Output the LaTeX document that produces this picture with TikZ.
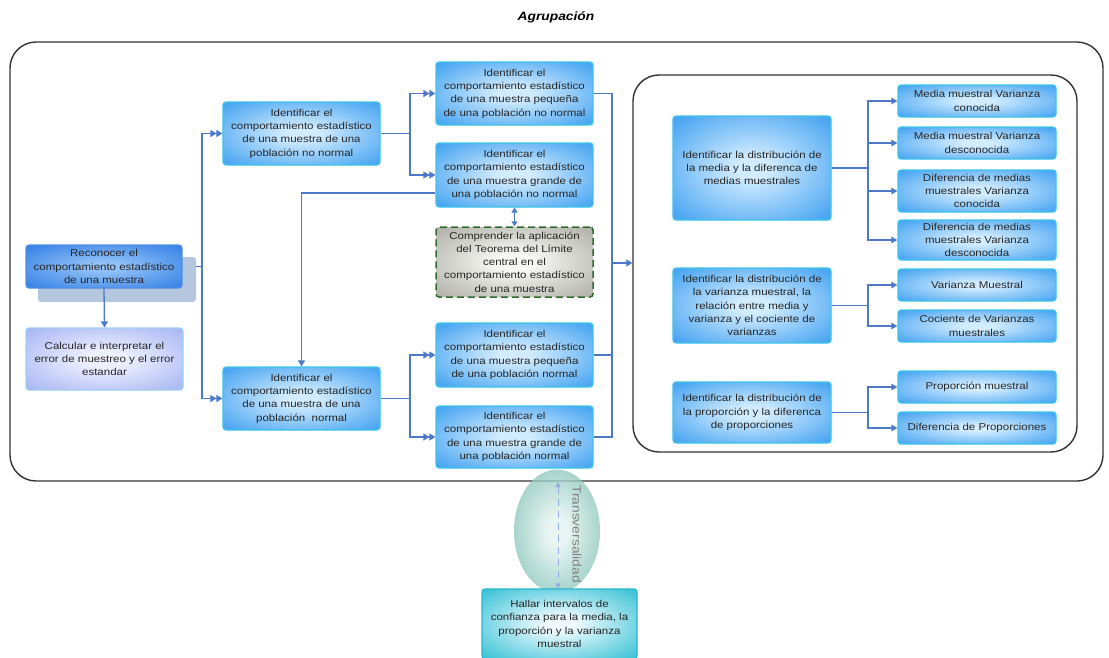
\documentclass[tikz,border=0pt]{standalone}
\usepackage{fontspec}
\setmainfont{Liberation Sans}[FakeStretch=1.15]
\usetikzlibrary{arrows.meta,shapes.geometric}
\definecolor{conn}{HTML}{4C79C9}
\definecolor{bxblue}{HTML}{4AA6F2}
\definecolor{bxlight}{HTML}{D2ECFF}
\definecolor{bxborder}{HTML}{3CC4E8}
\definecolor{abluea}{HTML}{3A84E6}
\definecolor{ablueb}{HTML}{92C2F8}
\definecolor{aborder}{HTML}{4F8FE6}
\definecolor{ashadow}{HTML}{B5C6DF}
\definecolor{lava}{HTML}{A0AEF2}
\definecolor{lavb}{HTML}{EEF1FF}
\definecolor{lavborder}{HTML}{9CCFF5}
\definecolor{tlca}{HTML}{A8A8A0}
\definecolor{tlcb}{HTML}{F7F7F4}
\definecolor{tlcborder}{HTML}{2F6B2F}
\definecolor{hcya}{HTML}{3CC3D6}
\definecolor{hcyb}{HTML}{EEFAFF}
\definecolor{hborder}{HTML}{29B5CC}
\definecolor{ella}{HTML}{5FB0A2}
\definecolor{ellb}{HTML}{E2F2EE}
\definecolor{txtgray}{HTML}{808080}
\definecolor{frame}{HTML}{333333}
\pgfdeclareradialshading{shblue}{\pgfpoint{0bp}{0bp}}{color(0bp)=(bxlight); color(5bp)=(bxlight); color(33bp)=(bxblue); color(80bp)=(bxblue)}
\pgfdeclareradialshading{sha}{\pgfpoint{0bp}{0bp}}{color(0bp)=(ablueb); color(5bp)=(ablueb); color(33bp)=(abluea); color(80bp)=(abluea)}
\pgfdeclareradialshading{shlav}{\pgfpoint{0bp}{0bp}}{color(0bp)=(lavb); color(6bp)=(lavb); color(38bp)=(lava); color(80bp)=(lava)}
\pgfdeclareradialshading{shtlc}{\pgfpoint{0bp}{0bp}}{color(0bp)=(tlcb); color(6bp)=(tlcb); color(38bp)=(tlca); color(80bp)=(tlca)}
\pgfdeclareradialshading{shh}{\pgfpoint{0bp}{0bp}}{color(0bp)=(hcyb); color(5bp)=(hcyb); color(34bp)=(hcya); color(80bp)=(hcya)}
\pgfdeclareradialshading{shell}{\pgfpoint{0bp}{0bp}}{color(0bp)=(ellb); color(6bp)=(ellb); color(36bp)=(ella); color(80bp)=(ella)}
\tikzset{
  box/.style={draw=bxborder, line width=1.2pt, rounded corners=3pt,
    shading=shblue, align=center, inner sep=0pt,
    text=black!85, font=\fontsize{10}{13.3}\selectfont},
  abox/.style={box, draw=aborder, shading=sha},
  shbox/.style={draw=none, rounded corners=3pt, fill=ashadow},
  lbox/.style={box, draw=lavborder, shading=shlav},
  tbox/.style={box, draw=tlcborder, line width=1.5pt, dash pattern=on 7pt off 4pt, shading=shtlc},
  hbox/.style={box, draw=hborder, shading=shh},
  grp/.style={draw=frame, line width=1.4pt, rounded corners=26pt, inner sep=0pt},
  cline/.style={draw=conn, line width=1.3pt},
  dbl/.style={cline, -{Triangle[length=6pt,width=7pt]Triangle[length=6pt,width=7pt]}},
  sgl/.style={cline, -{Triangle[length=6pt,width=7pt]}},
  rline/.style={draw=conn, line width=1.2pt},
  rarr/.style={rline, -{Triangle[length=6pt,width=6.5pt]}},
}
\begin{document}
\begin{tikzpicture}[x=1pt,y=-1pt]
\useasboundingbox (0,0) rectangle (1109,657);
\node[font=\fontsize{12}{14}\selectfont\bfseries\itshape] (title) at (556,17) {Agrupación};
% frames
\node[grp, minimum width=1093pt, minimum height=439pt] (outer) at (556.5,261.5) {};
\node[grp, minimum width=444pt, minimum height=377pt] (inner) at (855,263.5) {};
% left column
\node[shbox, minimum width=158pt, minimum height=45pt] (Ash) at (117,279.5) {};
\node[abox, minimum width=156pt, minimum height=43pt] (A) at (104,266.5) {Reconocer el\\comportamiento estadístico\\de una muestra};
\node[lbox, minimum width=157pt, minimum height=62pt] (B) at (104.5,359) {Calcular e interpretar el\\error de muestreo y el error\\estandar};
\node[box, minimum width=157pt, minimum height=63pt] (N1) at (301.5,133.5) {Identificar el\\comportamiento estadístico\\de una muestra de una\\población no normal};
\node[box, minimum width=157pt, minimum height=63pt] (N2) at (301.5,398.5) {Identificar el\\comportamiento estadístico\\de una muestra de una\\población\ \ normal};
\node[box, minimum width=157pt, minimum height=63pt] (S1) at (514.5,93.5) {Identificar el\\comportamiento estadístico\\de una muestra pequeña\\de una población no normal};
\node[box, minimum width=157pt, minimum height=64pt] (S2) at (514.5,175) {Identificar el\\comportamiento estadístico\\de una muestra grande de\\una población no normal};
\node[tbox, minimum width=157pt, minimum height=70pt] (TLC) at (514.5,262) {Comprender la aplicación\\del Teorema del Límite\\central en el\\comportamiento estadístico\\de una muestra};
\node[box, minimum width=157pt, minimum height=64pt] (S3) at (514.5,355) {Identificar el\\comportamiento estadístico\\de una muestra pequeña\\de una población normal};
\node[box, minimum width=157pt, minimum height=62pt] (S4) at (514.5,437) {Identificar el\\comportamiento estadístico\\de una muestra grande de\\una población normal};
% right group
\node[box, minimum width=158pt, minimum height=104pt] (R1) at (752,168) {Identificar la distribución de\\la media y la diferenca de\\medias muestrales};
\node[box, minimum width=158pt, minimum height=75pt] (R2) at (752,305.5) {Identificar la distribución de\\la varianza muestral, la\\relación entre media y\\varianza y el cociente de\\varianzas};
\node[box, minimum width=158pt, minimum height=61pt] (R3) at (752,412.5) {Identificar la distribución de\\la proporción y la diferenca\\de proporciones};
\node[box, minimum width=158pt, minimum height=32pt] (L1) at (977,101) {Media muestral Varianza\\conocida};
\node[box, minimum width=158pt, minimum height=32pt] (L2) at (977,143) {Media muestral Varianza\\desconocida};
\node[box, minimum width=158pt, minimum height=42pt] (L3) at (977,191) {Diferencia de medias\\muestrales Varianza\\conocida};
\node[box, minimum width=158pt, minimum height=40pt] (L4) at (977,240) {Diferencia de medias\\muestrales Varianza\\desconocida};
\node[box, minimum width=158pt, minimum height=32pt] (L5) at (977,285) {Varianza Muestral};
\node[box, minimum width=158pt, minimum height=32pt] (L6) at (977,326) {Cociente de Varianzas\\muestrales};
\node[box, minimum width=158pt, minimum height=32pt] (L7) at (977,387) {Proporción muestral};
\node[box, minimum width=158pt, minimum height=32pt] (L8) at (977,428) {Diferencia de Proporciones};
% junctions
\coordinate (J1) at (202,266.5);
\coordinate (J2) at (410,133.5);
\coordinate (J3) at (410,398.5);
\coordinate (J4) at (612,263);
\coordinate (J5) at (868,168);
\coordinate (J6) at (868,305.5);
\coordinate (J7) at (868,412.5);
% connectors left
\draw[sgl] (A.south) -- (B.north);
\draw[cline] (Ash.east |- A.east) -- (J1);
\draw[dbl] (J1) |- (N1.west);
\draw[dbl] (J1) |- (N2.west);
\draw[cline] (N1.east) -- (J2);
\draw[dbl] (J2) |- (S1.west);
\draw[dbl] (J2) |- (S2.west);
\draw[cline] (N2.east) -- (J3);
\draw[dbl] (J3) |- (S3.west);
\draw[dbl] (J3) |- (S4.west);
\draw[sgl] ([yshift=-18pt]S2.west) -| (N2.north);
\draw[cline, {Triangle[length=5pt,width=6pt]}-{Triangle[length=5pt,width=6pt]}] (S2.south) -- (TLC.north);
\draw[cline] (S1.east) -| (J4);
\draw[cline] (S4.east) -| (J4);
\draw[cline] (S3.east) -- (S3.east -| J4);
\draw[sgl] (J4) -- (J4 -| inner.west);
% connectors right
\draw[rline] (R1.east) -- (J5);
\foreach \t in {L1,L2,L3,L4} \draw[rarr] (J5) |- (\t.west);
\draw[rline] (R2.east) -- (J6);
\foreach \t in {L5,L6} \draw[rarr] (J6) |- (\t.west);
\draw[rline] (R3.east) -- (J7);
\foreach \t in {L7,L8} \draw[rarr] (J7) |- (\t.west);
% bottom
\node[ellipse, draw=none, minimum width=86pt, minimum height=123pt, shading=shell, fill opacity=0.78] (E) at (557,531) {};
\node[hbox, minimum width=155pt, minimum height=70pt] (H) at (559.5,624) {Hallar intervalos de\\confianza para la media, la\\proporción y la varianza\\muestral};
\coordinate (T1) at (558,482);
\draw[draw=conn!60, line width=1pt, dash pattern=on 7pt off 5pt, {Triangle[length=5pt,width=5pt]}-{Triangle[length=5pt,width=5pt]}] (T1) -- (T1 |- H.north);
\node[rotate=-90, text=txtgray, font=\fontsize{12}{14}\selectfont] (TV) at (577,534) {Transversalidad};
\end{tikzpicture}
\end{document}
